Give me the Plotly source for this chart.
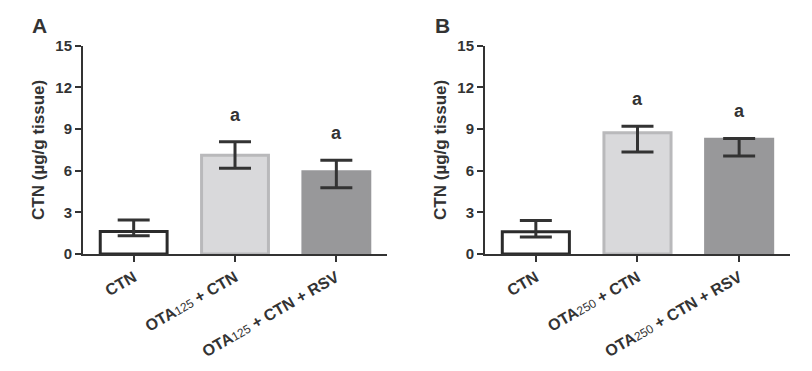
import plotly.graph_objects as go

sub_a = "<span style='font-size:12px;font-weight:normal;fill:#333333'>125</span>"
sub_b = "<span style='font-size:12px;font-weight:normal;fill:#333333'>250</span>"
categories_a = ["CTN", "OTA" + sub_a + " + CTN", "OTA" + sub_a + " + CTN + RSV"]
categories_b = ["CTN", "OTA" + sub_b + " + CTN", "OTA" + sub_b + " + CTN + RSV"]

mean_a = [1.62, 7.12, 5.92]
err_up_a = [0.83, 0.96, 0.84]
err_down_a = [0.30, 0.95, 1.15]
sig_a = ["", "a", "a"]

mean_b = [1.60, 8.73, 8.27]
err_up_b = [0.82, 0.47, 0.05]
err_down_b = [0.38, 1.38, 1.22]
sig_b = ["", "a", "a"]

panel_labels = ["A", "B"]
y_ticks = [0, 3, 6, 9, 12, 15]

fill_colors = ["#ffffff", "#d9d9db", "#98989a"]
line_colors = ["#2b2b2b", "#b9b9bb", "#98989a"]
dark = "#333333"
font_family = "Liberation Sans, Arial, sans-serif"

fig = go.Figure()

panels = [
    (categories_a, mean_a, err_up_a, err_down_a, sig_a, "x", "y"),
    (categories_b, mean_b, err_up_b, err_down_b, sig_b, "x2", "y2"),
]
for cats, means, up, down, sig, xa, ya in panels:
    fig.add_trace(go.Bar(
        x=cats, y=means, xaxis=xa, yaxis=ya,
        width=0.66,
        marker=dict(color=fill_colors, line=dict(color=line_colors, width=3)),
        error_y=dict(type="data", symmetric=False, array=up, arrayminus=down,
                     color=dark, thickness=3, width=16),
        showlegend=False, hoverinfo="skip",
    ))
    for c, m, u, s in zip(cats, means, up, sig):
        if s:
            fig.add_annotation(x=c, y=m + u + 1.95, xref=xa, yref=ya, text="<b>" + s + "</b>",
                               showarrow=False, font=dict(size=18, color=dark, family=font_family),
                               yanchor="middle")

axis_common = dict(showline=True, linecolor=dark, linewidth=2, ticks="outside",
                   tickcolor=dark, tickwidth=2, ticklen=6, showgrid=False, zeroline=False,
                   automargin=False)
xfont = dict(size=16, color=dark, family=font_family, weight="bold")
yfont = dict(size=15, color=dark, family=font_family, weight="bold")
ytitle = dict(text="CTN (µg/g tissue)", font=dict(size=17, color=dark, family=font_family, weight="bold"),
              standoff=6)

fig.update_layout(
    width=804, height=363,
    margin=dict(l=0, r=0, t=0, b=0),
    paper_bgcolor="white", plot_bgcolor="white",
    xaxis=dict(domain=[0.0933, 0.4714], range=[-0.5, 2.5], tickangle=-30, tickfont=xfont,
               anchor="y", **axis_common),
    yaxis=dict(domain=[0.3223, 0.8961], range=[0, 15], tickvals=y_ticks, tickfont=yfont,
               title=ytitle, anchor="x", ticklabelstandoff=0, **axis_common),
    xaxis2=dict(domain=[0.5933, 0.9726], range=[-0.5, 2.5], tickangle=-30, tickfont=xfont,
                anchor="y2", **axis_common),
    yaxis2=dict(domain=[0.3223, 0.8961], range=[0, 15], tickvals=y_ticks, tickfont=yfont,
                title=ytitle, anchor="x2", ticklabelstandoff=0, **axis_common),
)

for lbl, xp in zip(panel_labels, [0.0398, 0.5404]):
    fig.add_annotation(x=xp, y=0.951, xref="paper", yref="paper", text="<b>" + lbl + "</b>",
                       showarrow=False, font=dict(size=21, color=dark, family=font_family),
                       xanchor="center", yanchor="middle")

fig.write_html("out.html")
